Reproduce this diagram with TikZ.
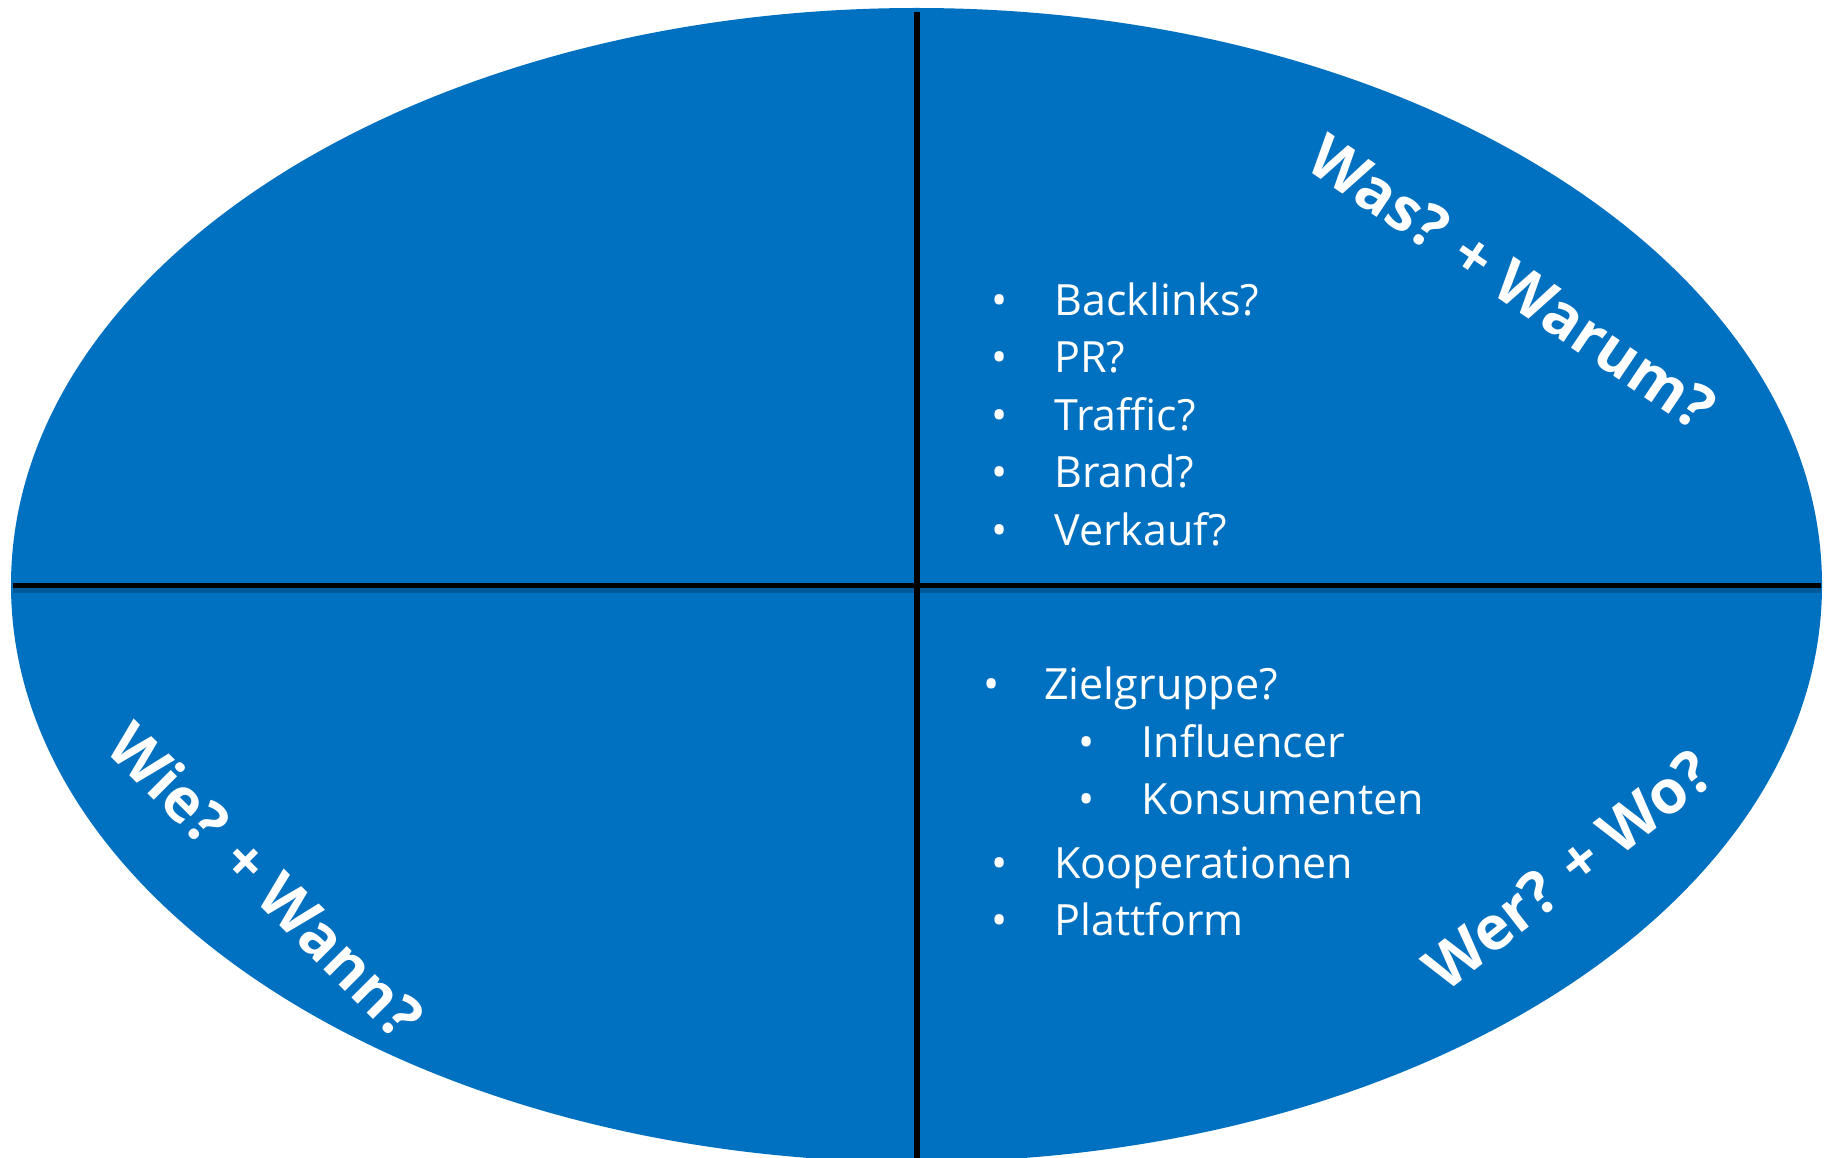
\documentclass[tikz,border=0pt]{standalone}
\usepackage{fontspec}
\newfontfamily\itemfont{Open Sans}
\newfontfamily\titlefont{Open Sans}
\definecolor{quadblue}{RGB}{0,112,192}
\tikzset{
  item/.style={text=white, font=\itemfont\fontsize{24.5}{30}\selectfont, anchor=base west, inner sep=0pt},
  dot/.style={text=white, font=\itemfont\fontsize{24.5}{30}\selectfont, anchor=base, inner sep=0pt},
  title/.style={text=white, font=\titlefont\bfseries\fontsize{34.5}{40}\selectfont, inner sep=0pt},
  axis/.style={line width=2.9pt, black},
  axisshadow/.style={line width=3pt, black, opacity=0.2},
}
\begin{document}
\begin{tikzpicture}[x=0.02cm, y=-0.02cm]
    \useasboundingbox (0,0) rectangle (1825,1158);
    \fill[quadblue] (916.5,585) ellipse [x radius=905.5, y radius=577];

    \coordinate (top) at (917,12);
    \coordinate (bottom) at (917,1158);
    \coordinate (left) at (13,585.5);
    \coordinate (right) at (1821,585.5);
    \draw[axisshadow] ([yshift=-2.5pt]left) -- ([yshift=-2.5pt]right);
    \draw[axis] (left) -- (right);
    \draw[axis] (top) -- (bottom);

    \node[title, rotate=-34] (was) at (1512,282) {Was? + Warum?};
    \node[title, rotate=-45] (wie) at (266,880) {Wie? + Wann?};
    \node[title, rotate=38] (wer) at (1568,870) {Wer? + Wo?};

    \node[dot] (d1) at (999.5,315.7) {•}; \node[item] (backlinks) at
    (1054,315.7) {Backlinks?}; \node[dot] (d2) at (999.5,373) {•};
    \node[item] (pr) at (1054,373) {PR?}; \node[dot] (d3) at (999.5,430.5)
    {•}; \node[item] (traffic) at (1054,430.5) {Traffic?}; \node[dot] (d4)
    at (999.5,488) {•}; \node[item] (brand) at (1054,488) {Brand?};
    \node[dot] (d5) at (999.5,545) {•}; \node[item] (verkauf) at
    (1054,545) {Verkauf?};

    \node[dot] (d6) at (992,699) {•}; \node[item] (zielgruppe) at
    (1044,699) {Zielgruppe?}; \node[dot] (d7) at (1087,757.6) {•};
    \node[item] (influencer) at (1141.6,757.6) {Influencer}; \node[dot]
    (d8) at (1087,814.8) {•}; \node[item] (konsumenten) at (1141.6,814.8)
    {Konsumenten}; \node[dot] (d9) at (999.5,878.5) {•}; \node[item]
    (kooperationen) at (1054,878.5) {Kooperationen}; \node[dot] (d10) at
    (999.5,935.7) {•}; \node[item] (plattform) at (1054,935.7)
    {Plattform};
\end{tikzpicture}
\end{document}
